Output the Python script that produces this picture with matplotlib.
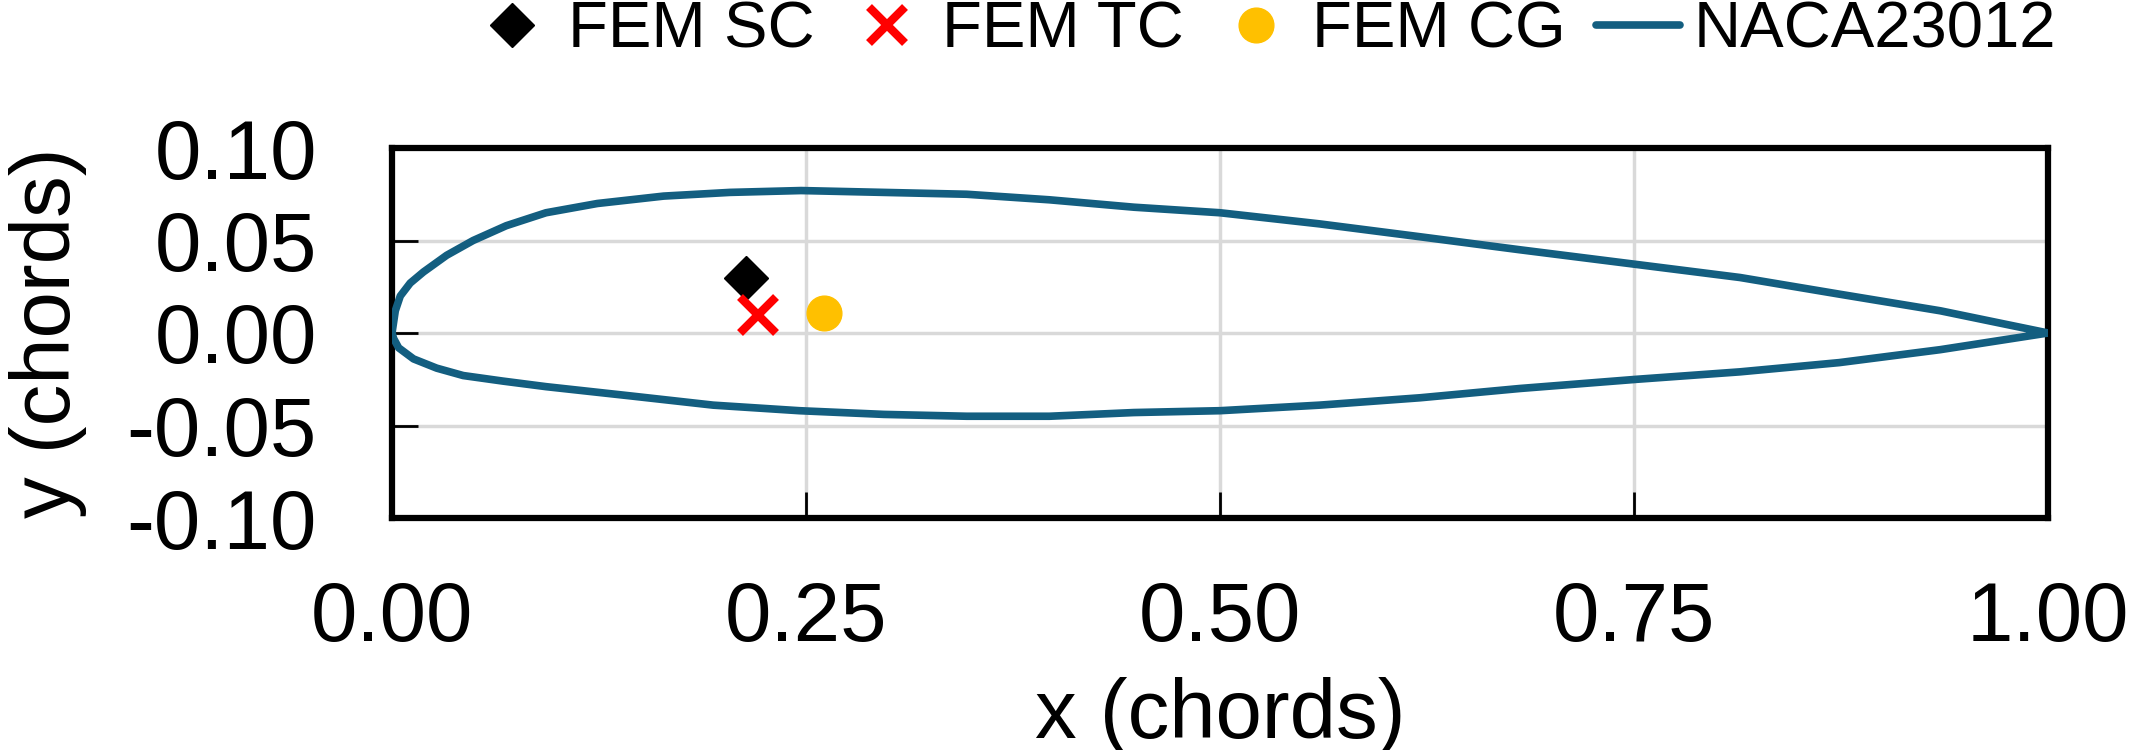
import matplotlib
matplotlib.use("Agg")
import matplotlib.pyplot as plt

plt.rcParams['font.family'] = ['Liberation Sans', 'DejaVu Sans']
plt.rcParams['axes.unicode_minus'] = False

# NACA23012 outline (chords)
upper_x = [0.000, 0.001, 0.002, 0.005, 0.011, 0.019, 0.033, 0.049, 0.069, 0.093, 0.124,
           0.164, 0.204, 0.247, 0.297, 0.347, 0.397, 0.448, 0.500, 0.560, 0.621,
           0.681, 0.752, 0.814, 0.874, 0.935, 1.000]
upper_y = [0.000, 0.006, 0.012, 0.020, 0.027, 0.033, 0.042, 0.050, 0.058, 0.065, 0.070,
           0.074, 0.076, 0.077, 0.076, 0.075, 0.072, 0.068, 0.065, 0.059, 0.052,
           0.045, 0.037, 0.030, 0.021, 0.012, 0.000]
lower_x = [0.000, 0.001, 0.004, 0.013, 0.027, 0.043, 0.067, 0.093, 0.144, 0.194,
           0.246, 0.297, 0.347, 0.397, 0.448, 0.500, 0.560, 0.621, 0.681, 0.752,
           0.814, 0.874, 0.935, 1.000]
lower_y = [0.000, -0.003, -0.008, -0.014, -0.019, -0.023, -0.026, -0.029, -0.034, -0.039,
           -0.042, -0.044, -0.045, -0.045, -0.043, -0.042, -0.039, -0.035, -0.030, -0.025,
           -0.021, -0.016, -0.009, 0.000]

# FEM centres
sc = (0.214, 0.030)
tc = (0.221, 0.010)
cg = (0.261, 0.011)

xticks = [0.0, 0.25, 0.5, 0.75, 1.0]
yticks = [-0.10, -0.05, 0.0, 0.05, 0.10]

W, H = 2132, 750
fig = plt.figure(figsize=(W / 100, H / 100), dpi=100)
ax = fig.add_axes([392 / W, 1 - 518 / H, (2048 - 392) / W, (518 - 148) / H])

# outline: trailing edge over the top to the nose, then back underneath
foil_x = upper_x[::-1] + lower_x[1:]
foil_y = upper_y[::-1] + lower_y[1:]

ax.plot(*sc, marker='D', ls='none', color='black', ms=22, label='FEM SC', zorder=4)
ax.plot(*tc, marker='x', ls='none', color='#ff0000', ms=26, mew=6, label='FEM TC', zorder=4)
ax.plot(*cg, marker='o', ls='none', color='#ffc000', ms=25, label='FEM CG', zorder=4)
ax.plot(foil_x, foil_y, color='#135e80', lw=5.5, solid_joinstyle='round',
        solid_capstyle='round', label='NACA23012', zorder=3)

ax.set_xlim(0, 1)
ax.set_ylim(-0.1, 0.1)
ax.set_xticks(xticks)
ax.set_yticks(yticks)
ax.set_xticklabels([f"{v:.2f}" for v in xticks])
ax.set_yticklabels([f"{v:.2f}" for v in yticks])
ax.grid(True, color='#d9d9d9', lw=2.5)
ax.set_axisbelow(True)
for s in ax.spines.values():
    s.set_linewidth(4.5)
    s.set_color('black')
ax.tick_params(direction='in', length=19, width=2, labelsize=60)
ax.tick_params(axis='x', pad=45)
ax.tick_params(axis='y', pad=54)

ax.set_xlabel('x (chords)', fontsize=60)
ax.set_ylabel('y (chords)', fontsize=60)
ax.xaxis.set_label_coords(0.5, -0.43)
ax.yaxis.set_label_coords(-0.184, 0.5)

fig.legend(loc='center right', bbox_to_anchor=(2056 / W, 1 - 31 / H), ncol=4,
           frameon=False, fontsize=47, handlelength=1.3, handletextpad=0.2,
           columnspacing=0.46, borderpad=0, borderaxespad=0)

fig.savefig('out.png', dpi=100)
